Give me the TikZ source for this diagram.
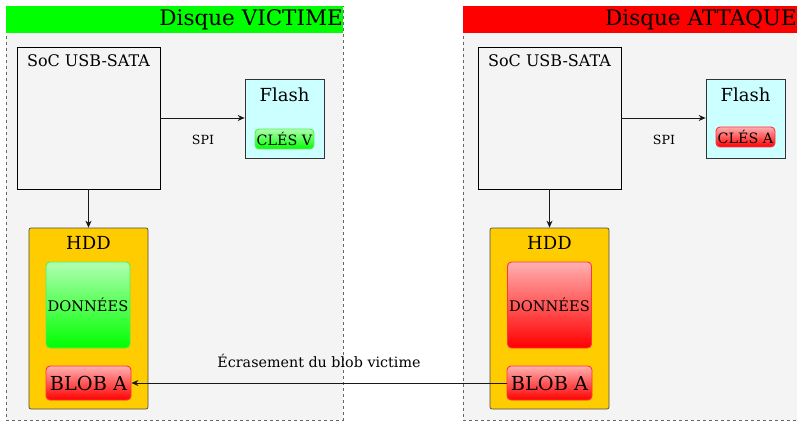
\documentclass[tikz,border=0pt]{standalone}
\usepackage{fontspec}
\setmainfont{DejaVu Serif}
\usetikzlibrary{arrows.meta}
\definecolor{bggray}{HTML}{F4F4F4}
\definecolor{flashc}{HTML}{CCFFFF}
\definecolor{hddc}{HTML}{FFCC00}
\definecolor{gtop}{HTML}{B0FFB0}
\definecolor{gmain}{HTML}{00FF00}
\definecolor{gedge}{HTML}{55EE55}
\definecolor{rtop}{HTML}{FFB0B0}
\definecolor{rmain}{HTML}{FF0000}
\definecolor{redge}{HTML}{FF3344}
\tikzset{
  container/.style={draw=black!60, dashed, fill=bggray, line width=0.6pt},
  socbox/.style={draw=black, fill=bggray, line width=0.9pt, minimum width=143pt, minimum height=142pt, inner sep=0pt},
  flashbox/.style={draw=black!80, fill=flashc, line width=0.7pt, minimum width=79pt, minimum height=79pt, inner sep=0pt},
  hddbox/.style={draw=black!70, fill=hddc, line width=0.7pt, rounded corners=2pt, minimum width=119pt, minimum height=181pt, inner sep=0pt},
  greenpill/.style={draw=gedge, line width=0.9pt, rounded corners=4pt, top color=gtop, middle color=gmain, bottom color=gmain, inner sep=0pt},
  redpill/.style={draw=redge, line width=0.9pt, rounded corners=4pt, top color=rtop, middle color=rmain, bottom color=rmain, inner sep=0pt},
  conn/.style={-{Stealth[length=7pt,width=6pt]}, line width=0.8pt, draw=black!90},
  lbl/.style={inner sep=0pt},
  ftitle/.style={font=\fontsize{21.5}{24}\selectfont},
  fsoc/.style={font=\fontsize{16}{18}\selectfont},
  fflash/.style={font=\fontsize{18}{20}\selectfont},
  fcles/.style={font=\fontsize{14.3}{16}\selectfont},
  fdon/.style={font=\fontsize{14.6}{16}\selectfont},
  fblob/.style={font=\fontsize{19.3}{21}\selectfont},
  fspi/.style={font=\fontsize{12.6}{14}\selectfont},
  fecr/.style={font=\fontsize{14.3}{16}\selectfont},
}
\begin{document}
\begin{tikzpicture}[x=1pt,y=-1pt]
\useasboundingbox (0,0) rectangle (797,422);
\clip (0,0) rectangle (797,422);
% Left container
\draw[container] (6,6) rectangle (343,420);
\fill[gmain] (6.3,6.3) rectangle (342.7,33);
\node[anchor=east, lbl, ftitle] (titleL) at (343,20) {Disque VICTIME};
% Right container
\draw[container] (463,6) rectangle (800,420);
\fill[rmain] (463.3,6.3) rectangle (799.7,33);
\node[anchor=west, lbl, ftitle] (titleR) at (605,20) {Disque ATTAQUE};

% Left components
\node[socbox] (socL) at (88.5,118) {};
\node[lbl, fsoc] (socLt) at (88.5,61) {SoC USB-SATA};
\node[flashbox] (flashL) at (284.5,118.5) {};
\node[lbl, fflash] (flashLt) at (284.5,95) {Flash};
\node[greenpill, minimum width=59pt, minimum height=20pt, fcles] (clesV) at (284.5,139) {CLÉS V};
\draw[conn] (socL.east |- 0,118) -- (flashL.west |- 0,118);
\node[lbl, fspi] (spiL) at (203,140) {SPI};
\node[hddbox] (hddL) at (88.5,318.5) {};
\node[lbl, fflash] (hddLt) at (88.5,243) {HDD};
\node[greenpill, minimum width=84pt, minimum height=86pt, fdon] (donL) at (88,305) {DONNÉES};
\node[redpill, minimum width=85pt, minimum height=34pt, fblob] (blobL) at (88.5,383) {BLOB A};
\draw[conn] (socL.south) -- (hddL.north);

% Right components
\node[socbox] (socR) at (549.5,118) {};
\node[lbl, fsoc] (socRt) at (549.5,61) {SoC USB-SATA};
\node[flashbox] (flashR) at (745.5,118.5) {};
\node[lbl, fflash] (flashRt) at (745.5,95) {Flash};
\node[redpill, minimum width=59pt, minimum height=20pt, fcles] (clesA) at (745.5,137) {CLÉS A};
\draw[conn] (socR.east |- 0,118) -- (flashR.west |- 0,118);
\node[lbl, fspi] (spiR) at (664,140) {SPI};
\node[hddbox] (hddR) at (549.5,318.5) {};
\node[lbl, fflash] (hddRt) at (549.5,243) {HDD};
\node[redpill, minimum width=84pt, minimum height=86pt, fdon] (donR) at (549.5,305) {DONNÉES};
\node[redpill, minimum width=85pt, minimum height=34pt, fblob] (blobR) at (549.5,383) {BLOB A};
\draw[conn] (socR.south) -- (hddR.north);

% Overwrite arrow
\draw[conn] (blobR.west) -- (blobL.east);
\node[lbl, fecr] (ecr) at (319,361) {Écrasement du blob victime};
\end{tikzpicture}
\end{document}
